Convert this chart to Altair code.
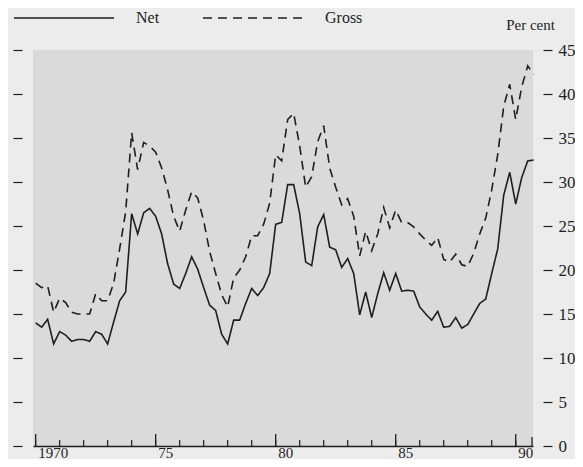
import altair as alt
import pandas as pd

# ---------------- data (quarterly, 1970 Q1 onward, per cent) ----------------
START_YEAR = 1970
NET = [14.0, 13.5, 14.4, 11.6, 13.0, 12.6, 11.9, 12.1, 12.1, 11.9, 13.0, 12.7, 11.6, 14.1, 16.5, 17.5,
       26.4, 24.1, 26.5, 27.0, 26.1, 24.1, 20.7, 18.4, 17.9, 19.6, 21.5, 20.1, 18.0, 16.0, 15.4, 12.7,
       11.6, 14.3, 14.3, 16.2, 17.9, 17.1, 18.0, 19.6, 25.2, 25.4, 29.7, 29.7, 26.4, 20.9, 20.5, 24.9,
       26.3, 22.6, 22.3, 20.3, 21.3, 19.6, 14.9, 17.5, 14.6, 17.3, 19.7, 17.7, 19.6, 17.6, 17.7, 17.6,
       15.8, 15.0, 14.3, 15.3, 13.5, 13.6, 14.6, 13.4, 13.8, 15.0, 16.2, 16.7, 19.6, 22.4, 28.5, 31.1,
       27.5, 30.5, 32.4, 32.5]
GROSS = [18.5, 18.0, 18.2, 15.2, 16.8, 16.3, 15.2, 15.0, 15.0, 15.0, 17.3, 16.5, 16.5, 18.5, 22.4, 26.6,
         35.6, 31.4, 34.5, 34.1, 33.4, 31.6, 29.1, 26.1, 24.4, 26.8, 28.9, 28.2, 25.6, 22.1, 19.6, 17.2,
         15.8, 19.1, 20.0, 21.5, 23.9, 23.9, 25.2, 27.6, 33.1, 32.4, 37.1, 37.8, 34.1, 29.4, 30.6, 34.6,
         36.4, 31.6, 29.4, 27.4, 28.1, 26.1, 21.6, 24.4, 22.2, 24.1, 27.1, 24.8, 26.8, 25.4, 25.4, 24.9,
         24.1, 23.4, 22.8, 23.7, 21.2, 20.9, 21.8, 20.6, 20.4, 21.9, 24.1, 25.9, 29.1, 33.1, 38.6, 41.1,
         37.1, 40.8, 43.2, 42.2]
SERIES = ["Net", "Gross"]
YEARS = list(range(1970, 1991))
MAJOR_YEARS = [1970, 1975, 1980, 1985, 1990]
TICK_LABELS = ["1970", "75", "80", "85", "90"]
END_TICK = [1990.68]
Y_TICKS = list(range(0, 50, 5))

t = [START_YEAR + i / 4 for i in range(len(NET))]
df = pd.DataFrame({
    "t": t + t,
    "value": NET + GROSS,
    "series": [SERIES[0]] * len(NET) + [SERIES[1]] * len(GROSS),
})
years_df = pd.DataFrame({"t": YEARS})
major_df = pd.DataFrame({"t": MAJOR_YEARS})
end_df = pd.DataFrame({"t": END_TICK})
yticks_df = pd.DataFrame({"value": Y_TICKS})

# ---------------- style ----------------
W, H = 500, 396
FONT = "Liberation Serif"
INK = "#1e1e1e"

xscale = alt.Scale(domain=[1969.89, 1990.72], nice=False, zero=False)
yscale = alt.Scale(domain=[0, 45], nice=False, zero=True)

label_expr = "".join(f"datum.value == {y} ? '{l}' : " for y, l in zip(MAJOR_YEARS, TICK_LABELS)) + "''"

x_axis = alt.Axis(values=MAJOR_YEARS, labelExpr=label_expr, ticks=False, tickSize=0,
                  domain=True, domainColor=INK, domainWidth=1.5,
                  labelFont=FONT, labelFontSize=15, labelColor=INK,
                  labelAlign="left", labelBaseline="alphabetic", labelOffset=2,
                  labelPadding=11, grid=False)

def xenc():
    return alt.X("t:Q", scale=xscale, title=None, axis=x_axis)

lines = alt.Chart(df).mark_line(strokeWidth=1.6, color=INK).encode(
    x=xenc(),
    y=alt.Y("value:Q", scale=yscale, title="Per cent",
            axis=alt.Axis(orient="right", values=Y_TICKS, offset=10, tickSize=9,
                          tickColor=INK, tickWidth=1.2, domain=False, grid=False,
                          labelFont=FONT, labelFontSize=17, labelColor=INK, labelPadding=6,
                          titleAngle=0, titleX=-13, titleY=-26,
                          titleFont=FONT, titleFontSize=15, titleFontWeight="normal",
                          titleColor=INK, titleAlign="center", titleBaseline="middle")),
    strokeDash=alt.StrokeDash(
        "series:N",
        scale=alt.Scale(domain=SERIES, range=[[1, 0], [9, 6]]),
        legend=alt.Legend(title=None, orient="none", legendX=-20, legendY=-83,
                          direction="horizontal", symbolType="stroke", symbolSize=10000,
                          symbolStrokeWidth=1.4, symbolStrokeColor=INK,
                          labelFont=FONT, labelFontSize=16, labelColor=INK,
                          labelOffset=21, columnPadding=40),
    ),
)

minor_ticks = alt.Chart(years_df).mark_rule(color=INK, strokeWidth=1.2).encode(
    x=xenc(), y=alt.value(H), y2=alt.value(H - 6),
)
major_ticks = alt.Chart(major_df).mark_rule(color=INK, strokeWidth=1.3).encode(
    x=xenc(), y=alt.value(H), y2=alt.value(H - 12),
)
end_tick = alt.Chart(end_df).mark_rule(color=INK, strokeWidth=1.3).encode(
    x=xenc(), y=alt.value(H), y2=alt.value(H - 9),
)
left_axis = alt.Chart(yticks_df).mark_point(opacity=0).encode(
    y=alt.Y("value:Q", scale=yscale, title=None,
            axis=alt.Axis(orient="left", values=Y_TICKS, labels=False, offset=11,
                          tickSize=9, tickColor=INK, tickWidth=1.2, domain=False, grid=False)),
)

chart = alt.layer(left_axis, minor_ticks, major_ticks, end_tick, lines).resolve_scale(
    y="shared"
).resolve_axis(y="independent").properties(
    width=W, height=H,
    autosize=alt.AutoSizeParams(type="none"),
    padding={"left": 25, "top": 42, "right": 42, "bottom": 13},
).configure(background="#ececec").configure_view(fill="#dadada", strokeWidth=0)

chart.save("out.html", embed_options={"renderer": "svg", "actions": False})
